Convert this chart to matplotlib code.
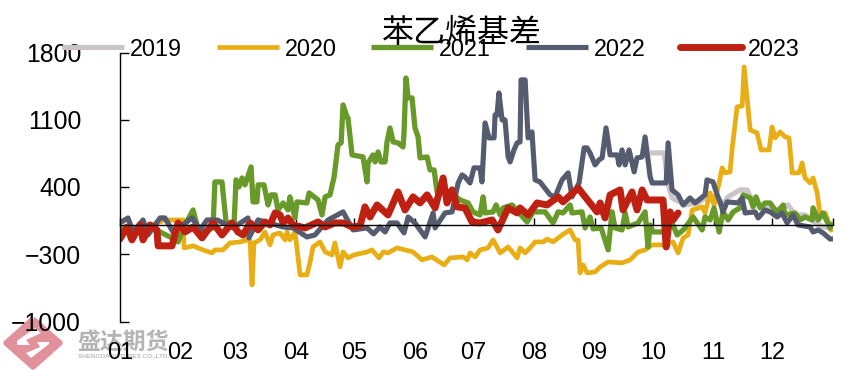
import matplotlib
matplotlib.use("Agg")
import matplotlib.pyplot as plt
from matplotlib.path import Path
from matplotlib.patches import PathPatch

plt.rcParams['font.family'] = ['Liberation Sans', 'DejaVu Sans']

month_ticks = [0, 31, 59, 90, 120, 151, 181, 212, 243, 273, 304, 334, 365]
month_labels = ['01', '02', '03', '04', '05', '06', '07', '08', '09', '10', '11', '12', '']
y_ticks = [-1000, -300, 400, 1100, 1800]

d2019 = [271.4, 278.5, 280.6, 282.6, 289.3, 295.9, 302, 308.2, 311.3, 317.4, 321, 323.6, 328.7, 335.4, 342, 345.6, 350.7, 357.4, 362.5, 365]
v2019 = [755, 755, 422, 286, 213, 234, 318, 213, 297, 370, 370, 265, 193, 161, 213, 109, 109, 5, -26, -47]

d2020 = [0, 7.7, 15.4, 23, 32.3, 32.8, 37.4, 42.5, 47.1, 48.6, 52.7, 56.3, 61.4, 65, 66.6, 67.6, 68.6, 71.7, 74.2, 76.8, 78.3, 81.9, 84.5, 85.5, 87, 89.6, 92.2, 95.7, 97.3, 98.8, 102.4, 105, 108.5, 110, 112.6, 114.2, 116.7, 119.8, 126.5, 129, 132.6, 134.7, 137.2, 141.8, 150, 154.6, 159.7, 165.9, 169, 175.6, 177.7, 179.2, 181.8, 184.3, 188.4, 191, 194.6, 198.7, 203.3, 204.8, 207.4, 209.9, 212.5, 216.6, 218.6, 221.7, 226.3, 230.4, 233, 234.5, 235.5, 237.1, 239.1, 243.2, 245.8, 249.9, 257, 261.1, 265.2, 268.8, 272.4, 278, 283.1, 285.7, 288.3, 290.8, 292.9, 298, 299.5, 302.1, 304.1, 306.7, 308.2, 309.8, 312.3, 313.3, 315.9, 318.5, 319.5, 322.6, 326.1, 328.2, 332.3, 333.8, 335.4, 337.9, 340.5, 342.5, 344.1, 347.6, 349.2, 350.7, 353.3, 354.8, 356.9, 358.4, 361, 364.5]
v2020 = [-26, -68, -5, 57, 57, -234, -213, -255, -286, -255, -255, -182, -172, -151, -161, -619, -182, -151, -68, -203, -99, -78, -151, -68, -151, -68, -515, -515, -380, -224, -172, -276, -307, -182, -432, -276, -338, -307, -276, -255, -338, -276, -286, -234, -276, -359, -328, -411, -338, -328, -359, -286, -328, -255, -234, -151, -286, -224, -338, -234, -286, -234, -172, -172, -141, -172, -99, -47, -151, -151, -494, -411, -494, -484, -432, -380, -390, -359, -276, -255, -203, -203, -172, -286, -130, -99, 161, 193, 130, 338, 213, 442, 599, 547, 557, 786, 1234, 1244, 1650, 994, 963, 786, 786, 1025, 911, 973, 921, 911, 547, 547, 651, 494, 442, 494, 338, 109, 130, -68]

d2021 = [0, 5.1, 12.8, 20.5, 26.6, 29.7, 33.3, 37.4, 39.4, 42.5, 47.6, 48.6, 52.2, 54.3, 58.4, 59.4, 60.9, 62.5, 64, 67.1, 68.1, 70.1, 70.7, 73.7, 75.8, 77.3, 79.4, 80.9, 83.5, 86, 87, 89.6, 90.6, 95.7, 96.8, 101.4, 103.4, 105, 107.5, 109.6, 111.6, 113.2, 114.2, 116.2, 116.7, 118.8, 124.4, 126.5, 127, 129.5, 130.6, 132.1, 133.6, 135.7, 136.7, 138.2, 139.8, 142.3, 144.9, 145.4, 146.4, 147.5, 149.5, 151, 152.6, 153.6, 157.2, 158.7, 160.8, 162.3, 169, 174.1, 178.2, 180.7, 184.3, 185.9, 186.9, 191, 192.5, 194.6, 196.1, 200.7, 208.4, 211.5, 217.6, 221.7, 224.3, 226.8, 230.4, 231.4, 236.5, 238.1, 240.6, 242.2, 246.3, 249.9, 251.9, 253.4, 257, 258.6, 260.1, 265.2, 268.8, 270.3, 271.4, 272.9, 278, 283.1, 285.2, 288.3, 293.4, 298, 299.5, 302.1, 304.1, 306.7, 308.7, 311.3, 313.9, 317.4, 319, 322.6, 324.1, 325.6, 327.7, 330.2, 332.8, 336.4, 339.5, 340.5, 345.6, 348.2, 350.7, 354.3, 354.8, 357.4, 359.9, 363.5, 364.5]
v2021 = [-26, -68, -5, -68, -130, -172, 5, 161, 5, -68, -26, 453, 453, 36, 16, 474, 401, 494, 422, 609, 245, 245, 422, 422, 213, 318, 318, 161, 234, 161, 297, 78, 245, 234, 338, 265, 109, 297, 318, 505, 838, 859, 1254, 1130, 1119, 734, 713, 453, 651, 734, 661, 765, 661, 661, 869, 1015, 869, 859, 817, 963, 1535, 1327, 1327, 1015, 921, 703, 713, 578, 578, 349, 349, 265, 234, 141, 109, 297, 130, 141, 213, 109, 182, 213, 36, 141, 141, 26, 141, 130, 213, 130, 141, -26, 88, -36, -26, -255, 141, -26, -47, 130, -16, 26, 141, -224, 5, -68, -68, 5, -99, -47, 88, -47, 88, 57, 182, -68, 141, 57, 141, 182, 318, 286, 193, 297, 182, 234, 234, 130, 213, 109, 130, 57, 88, 57, 182, 57, 130, -26, 36]

d2022 = [0, 4.1, 6.7, 11.8, 14.3, 20.5, 23, 27.1, 36.9, 41, 44.5, 49.7, 57.9, 65.5, 66, 70.7, 83.5, 88.6, 95.7, 99.8, 106.5, 114.2, 119.3, 126.5, 129.8, 133.1, 135.7, 138.2, 141.8, 145.4, 147.5, 151, 156.2, 160.3, 161.3, 166.4, 170, 173.1, 175.1, 176.6, 179.2, 181.2, 184.3, 185.3, 186.9, 188.9, 191.5, 192, 193, 194, 195.6, 197.1, 198.7, 199.7, 201.7, 203.3, 204.8, 205.3, 207.4, 208.9, 210.9, 212.5, 215, 220.2, 222.7, 226.3, 229.4, 231.4, 235, 237.6, 239.1, 240.6, 243.2, 245.2, 246.8, 248.8, 250.9, 254.5, 255.5, 257, 258.6, 260.6, 263.2, 264.7, 267.3, 268.8, 271.4, 272.4, 279.6, 280.6, 282.6, 285.7, 288.3, 291.8, 294.4, 299.5, 300.5, 303.6, 305.7, 307.2, 308.7, 310.8, 316.4, 318.5, 320, 325.1, 326.7, 330.2, 332.8, 336.4, 338.9, 341.5, 344.6, 347.1, 353.3, 354.8, 357.4, 359.9, 363.5, 365]
v2022 = [26, 78, -68, 57, -99, 78, 78, -68, 78, -47, 57, 57, -26, 78, -130, 57, -16, -26, -120, -99, 57, 141, -47, -26, -88, -16, -68, 26, 26, -78, 88, 26, -120, 130, -26, 130, 141, 442, 526, 505, 442, 599, 599, 453, 1067, 911, 911, 1150, 1150, 1379, 1098, 1098, 713, 661, 786, 859, 869, 1515, 1515, 911, 973, 474, 453, 318, 297, 474, 547, 297, 442, 807, 807, 755, 630, 682, 703, 1015, 734, 734, 630, 786, 630, 786, 557, 703, 713, 921, 505, 442, 442, 859, 370, 318, 213, 286, 234, 318, 474, 453, 318, 245, 141, 245, 234, 286, 130, 141, 78, 161, 141, 88, 130, 26, 109, 5, -16, -68, -47, -78, -141, -141]

d2023 = [0, 3.6, 6.1, 10.2, 11.8, 15.4, 18.9, 19.5, 26.6, 29.7, 33.3, 37.4, 42, 47.6, 52.2, 57.3, 60.4, 63, 66.6, 70.7, 74.2, 76.8, 79.4, 81.9, 83.5, 86, 88.6, 94.7, 101.4, 105, 110, 114.2, 118.8, 122.9, 125.4, 128, 131.6, 137.2, 142.3, 145.9, 150, 153.6, 157.2, 161.3, 165.4, 167.4, 170, 172.5, 176.6, 180.2, 184.3, 190.5, 193.5, 198.7, 203.3, 204.8, 208.9, 213.5, 218.6, 224.3, 226.8, 234.5, 240.6, 244.2, 245.8, 248.3, 250.9, 256, 257.5, 262.1, 264.7, 267.3, 269.8, 278, 279.6, 281.6, 283.1, 285.7]
v2023 = [-141, -16, -151, 5, -151, 5, -47, -213, -213, 26, -68, -16, -130, 26, -99, 26, -68, -99, 26, -47, 36, 5, 130, 109, 26, 78, 5, -26, 36, -16, 26, 26, -16, -5, 193, 88, 213, 109, 349, 161, 297, 234, 318, 182, 494, 234, 370, 193, 182, 36, 26, 57, -47, 182, 130, 182, 109, 234, 213, 297, 245, 390, 234, 141, 234, 78, 318, 370, 161, 349, 161, 370, 265, 265, -224, 141, 57, 130]

W, H = 843, 370
fig = plt.figure(figsize=(W / 100, H / 100), dpi=100)
ax = fig.add_axes([120 / W, 1 - 321.5 / H, 713 / W, 269 / H])
ax.set_facecolor('none')


def px(x, y):
    return x / W, 1 - y / H


# watermark logo
logo = fig.add_axes([0, 0, 1, 1], zorder=-1)
logo.set_xlim(0, W)
logo.set_ylim(H, 0)
logo.axis('off')
diamond = [(33, 319), (60, 343), (33, 367), (6, 343), (33, 319)]
logo.add_patch(PathPatch(Path(diamond), facecolor='#E09199', edgecolor='#E09199', lw=4, joinstyle='round'))
logo.add_patch(PathPatch(Path([(17, 341), (35, 328), (41, 333), (26, 340), (30, 345), (17, 345), (17, 341)]), facecolor='white', edgecolor='none'))
logo.add_patch(PathPatch(Path([(49, 344), (31, 358), (26, 353), (40, 347), (37, 342), (49, 342), (49, 344)]), facecolor='white', edgecolor='none'))
logo.text(123, 342, '盛达期货', family='Noto Sans CJK SC', fontsize=16.5, fontweight='bold', color='#B4B4B4', ha='center', va='center')
logo.text(124, 356, 'SHENGDA FUTURES CO.,LTD.', fontsize=4.6, fontweight='bold', color='#BDBDBD', ha='center', va='center')

ax.plot(d2019, v2019, color='#CBC4C8', lw=3.7, label='2019', solid_capstyle='butt', solid_joinstyle='round')
ax.plot(d2020, v2020, color='#E9AE13', lw=3.4, label='2020', solid_capstyle='butt', solid_joinstyle='round')
ax.plot(d2021, v2021, color='#689A2A', lw=3.8, label='2021', solid_capstyle='butt', solid_joinstyle='round')
ax.plot(d2022, v2022, color='#565C6F', lw=3.7, label='2022', solid_capstyle='butt', solid_joinstyle='round')
ax.plot(d2023, v2023, color='#BE2112', lw=5.0, label='2023', solid_capstyle='round', solid_joinstyle='round')

ax.set_xlim(0, 365)
ax.set_ylim(-1000, 1800)
ax.set_yticks(y_ticks)
ax.set_xticks(month_ticks)
ax.set_xticklabels(month_labels)
for s in ['top', 'right']:
    ax.spines[s].set_visible(False)
ax.spines['bottom'].set_position(('data', 0))
ax.spines['left'].set_linewidth(1.0)
ax.spines['bottom'].set_linewidth(1.0)
ax.tick_params(axis='y', direction='in', length=6.5, width=1.0, labelsize=17.8, pad=28)
ax.tick_params(axis='x', direction='in', length=5, width=1.0, labelsize=16.8, pad=83.5)

leg = ax.legend(loc='center left', bbox_to_anchor=px(62, 49), bbox_transform=fig.transFigure,
                ncol=5, frameon=False, fontsize=16.8, borderpad=0, borderaxespad=0,
                handlelength=2.66, handletextpad=0.25, columnspacing=1.49)

fig.text(*px(462, 33), '苯乙烯基差', family='Noto Sans CJK SC', fontsize=23, color='black', ha='center', va='center')

fig.savefig('out.png', dpi=100)
